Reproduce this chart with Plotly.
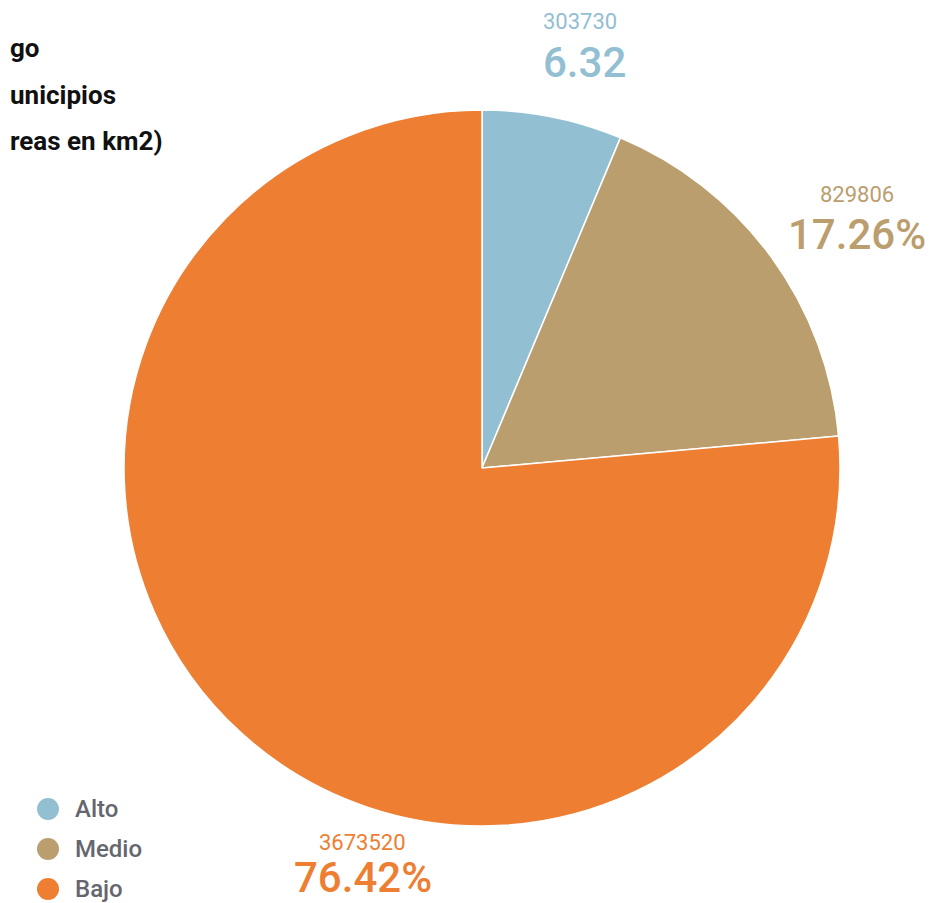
import plotly.graph_objects as go

categories = ["Alto", "Medio", "Bajo"]
values = [303730, 829806, 3673520]
pct_labels = ["6.32", "17.26%", "76.42%"]
colors = ["#92C0D2", "#BA9E6E", "#ED7E32"]
title_lines = ["go", "unicipios", "reas en km2)"]

# page body has an 8px margin: figure coordinates = screen coordinates - 8
OFF = 8
W, H = 950 - OFF, 903 - OFF
FONT = "Roboto, sans-serif"

def px(x):
    return (x - OFF) / W

def py(y):
    return 1 - (y - OFF) / H

fig = go.Figure()
fig.add_trace(go.Pie(
    labels=categories,
    values=values,
    sort=False,
    direction="clockwise",
    rotation=0,
    marker=dict(colors=colors, line=dict(color="white", width=1.5)),
    textinfo="none",
    hoverinfo="label+value+percent",
    showlegend=False,
    domain=dict(x=[px(124), px(840)], y=[py(826), py(110)]),
))

annotations = []
# title (cut off at the left edge in the reference)
title_y = [48, 95, 141]
for t, y in zip(title_lines, title_y):
    annotations.append(dict(
        text=t, x=0, y=py(y), xref="paper", yref="paper",
        xanchor="left", yanchor="middle", showarrow=False,
        font=dict(family=FONT, size=26, color="#111111", weight="bold"),
    ))

# data labels
label_pos = [(580, 22, 584, 62), (857, 195, 857, 234), (362, 842, 363, 877)]
for v, p, c, (nx, ny, qx, qy) in zip(values, pct_labels, colors, label_pos):
    annotations.append(dict(
        text=str(v), x=px(nx), y=py(ny), xref="paper", yref="paper",
        xanchor="center", yanchor="middle", showarrow=False,
        font=dict(family=FONT, size=22, color=c),
    ))
    annotations.append(dict(
        text=p, x=px(qx), y=py(qy), xref="paper", yref="paper",
        xanchor="center", yanchor="middle", showarrow=False,
        font=dict(family=FONT, size=42, color=c, weight=500),
    ))

# legend
shapes = []
leg_y = [809, 849, 889]
for cat, c, y in zip(categories, colors, leg_y):
    shapes.append(dict(
        type="circle", xref="paper", yref="paper",
        xsizemode="pixel", ysizemode="pixel",
        xanchor=px(48), yanchor=py(y),
        x0=-11, x1=11, y0=-11, y1=11,
        fillcolor=c, line=dict(width=0),
    ))
    annotations.append(dict(
        text=cat, x=px(73), y=py(y), xref="paper", yref="paper",
        xanchor="left", yanchor="middle", showarrow=False,
        font=dict(family=FONT, size=24, color="#66666E", weight=500),
    ))

fig.update_layout(
    width=W, height=H,
    margin=dict(l=0, r=0, t=0, b=0),
    paper_bgcolor="white",
    plot_bgcolor="white",
    annotations=annotations,
    shapes=shapes,
)

fig.write_html("out.html")
